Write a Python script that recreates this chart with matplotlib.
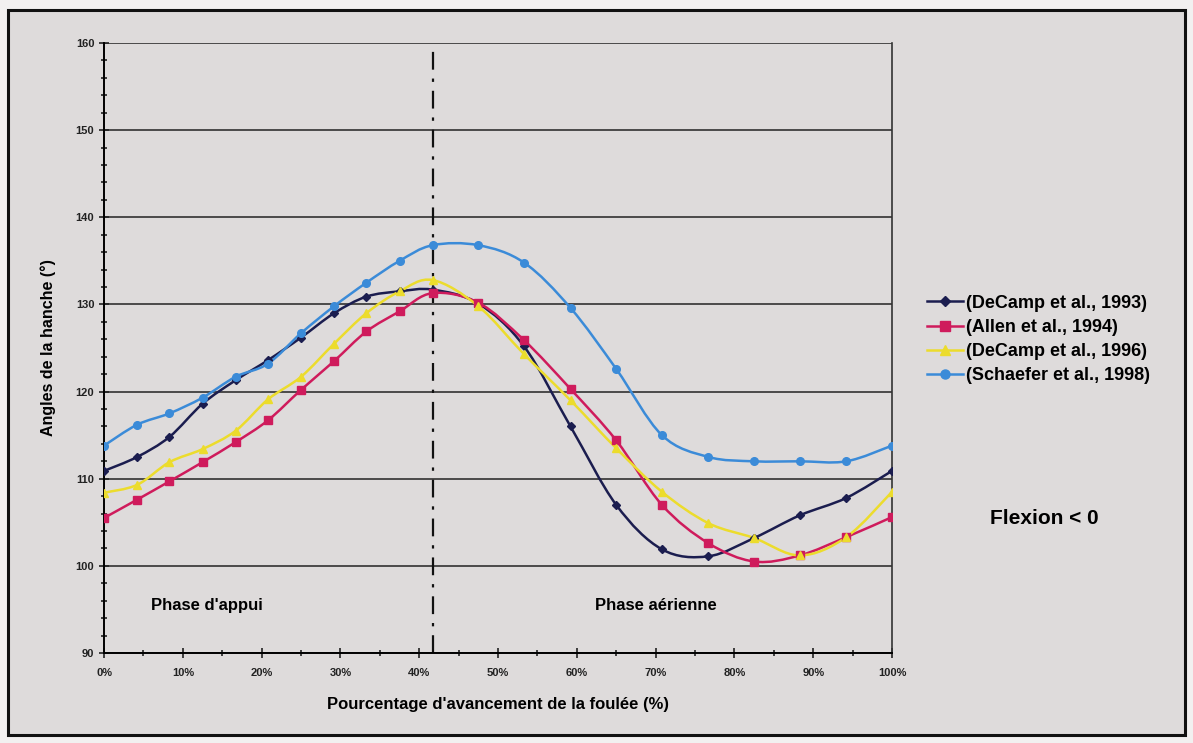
# Angles de la hanche - comparaison de 4 études
import numpy as np
import matplotlib.pyplot as plt
from matplotlib.path import Path
from matplotlib.patches import PathPatch, Rectangle
from matplotlib.lines import Line2D
from matplotlib.ticker import MultipleLocator, FuncFormatter

plt.rcParams['font.family'] = ['Liberation Sans', 'DejaVu Sans']

# ============================================
# Data
# ============================================

pct = [0, 4.2, 8.3, 12.5, 16.7, 20.8, 25, 29.2, 33.3, 37.5, 41.7,
       47.5, 53.3, 59.2, 65, 70.8, 76.7, 82.5, 88.3, 94.2, 100]

decamp_1993 = [110.9, 112.5, 114.8, 118.6, 121.3, 123.6, 126.2, 129.0, 130.9, 131.5, 131.7,
               130.1, 125.2, 116.0, 107.0, 101.9, 101.1, 103.2, 105.8, 107.8, 110.9]
allen_1994 = [105.5, 107.6, 109.7, 111.9, 114.2, 116.7, 120.2, 123.5, 126.9, 129.2, 131.3,
              130.2, 125.9, 120.3, 114.4, 107.0, 102.6, 100.5, 101.2, 103.3, 105.6]
decamp_1996 = [108.4, 109.3, 111.9, 113.4, 115.5, 119.1, 121.7, 125.5, 129.0, 131.5, 132.8,
               129.8, 124.3, 119.0, 113.5, 108.5, 104.9, 103.2, 101.2, 103.3, 108.5]
schaefer_1998 = [113.8, 116.2, 117.5, 119.3, 121.7, 123.2, 126.7, 129.8, 132.5, 135.0, 136.8,
                 136.8, 134.8, 129.6, 122.6, 115.0, 112.5, 112.0, 112.0, 112.0, 113.8]

labels = ["(DeCamp et al., 1993)", "(Allen et al., 1994)",
          "(DeCamp et al., 1996)", "(Schaefer et al., 1998)"]
phase_split = 41.7


def smooth_path(x, y):
    # courbe lissée style Excel (Bezier)
    pts = np.column_stack([x, y]).astype(float)
    n = len(pts)
    verts = [pts[0]]
    codes = [Path.MOVETO]
    for i in range(n - 1):
        p0 = pts[max(i - 1, 0)]
        p1 = pts[i]
        p2 = pts[i + 1]
        p3 = pts[min(i + 2, n - 1)]
        verts += [p1 + (p2 - p0) / 6, p2 - (p3 - p1) / 6, p2]
        codes += [Path.CURVE4] * 3
    return Path(verts, codes)


# ============================================
# Figure
# ============================================

bg = "#dedbdb"
fig = plt.figure(figsize=(11.93, 7.43), dpi=100, facecolor="#f2f0f0")
fig.patches.append(Rectangle((0.007, 0.011), 0.986, 0.975, transform=fig.transFigure,
                             facecolor=bg, edgecolor="#111111", linewidth=2.2, zorder=-1))

ax = fig.add_axes([0.0872, 0.1211, 0.6605, 0.821])
ax.set_facecolor(bg)

series = [
    (decamp_1993, "#1b1d4f", "D", 4.5),
    (allen_1994, "#cf1b5c", "s", 5.5),
    (decamp_1996, "#ecdc2c", "^", 5.5),
    (schaefer_1998, "#3b8bd8", "o", 5.5),
]

handles = []
for (vals, color, marker, ms), lab in zip(series, labels):
    ax.add_patch(PathPatch(smooth_path(pct, vals), fill=False, edgecolor=color,
                           linewidth=1.8, zorder=3))
    ax.plot(pct, vals, linestyle="none", marker=marker, markersize=ms,
            color=color, zorder=4)
    handles.append(Line2D([], [], color=color, marker=marker, markersize=ms + 1, linewidth=1.8))

ax.axvline(phase_split, color="#111111", linestyle=(0, (8, 4, 1.5, 4)), linewidth=1.6, zorder=2)

ax.set_xlim(0, 100)
ax.set_ylim(90, 160)
ax.yaxis.set_major_locator(MultipleLocator(10))
ax.yaxis.set_minor_locator(MultipleLocator(2))
ax.xaxis.set_major_locator(MultipleLocator(10))
ax.xaxis.set_minor_locator(MultipleLocator(5))
ax.xaxis.set_major_formatter(FuncFormatter(lambda v, p: f"{v:.0f}%"))

ax.grid(axis="y", color="#4a4a4a", linewidth=1.4)
ax.set_axisbelow(True)

ax.spines["top"].set_visible(False)
ax.spines["right"].set_color("#333333")
ax.spines["right"].set_linewidth(1.2)
ax.spines["left"].set_linewidth(1.4)
ax.spines["bottom"].set_linewidth(1.4)

ax.tick_params(which="both", direction="inout", width=1.2, colors="#222222",
               labelsize=8)
ax.tick_params(which="major", length=7)
ax.tick_params(which="minor", length=5)
ax.tick_params(axis="x", pad=7)
for t in ax.get_xticklabels() + ax.get_yticklabels():
    t.set_fontweight("bold")

ax.set_ylabel("Angles de la hanche (°)", fontsize=11.5, fontweight="bold", labelpad=14)
ax.set_xlabel("Pourcentage d'avancement de la foulée (%)", fontsize=12,
              fontweight="bold", labelpad=14)

ax.text(13, 95.5, "Phase d'appui", ha="center", va="center", fontsize=12, fontweight="bold")
ax.text(70, 95.5, "Phase aérienne", ha="center", va="center", fontsize=12, fontweight="bold")

fig.text(0.875, 0.302, "Flexion < 0", ha="center", va="center", fontsize=15, fontweight="bold")

leg = fig.legend(handles, labels, loc="upper left", bbox_to_anchor=(0.771, 0.613),
                 frameon=False, fontsize=13, handlelength=2.0, handletextpad=0.15,
                 labelspacing=0.4, borderaxespad=0)
for t in leg.get_texts():
    t.set_fontweight("bold")

plt.savefig("out.png", dpi=100, facecolor=fig.get_facecolor())
